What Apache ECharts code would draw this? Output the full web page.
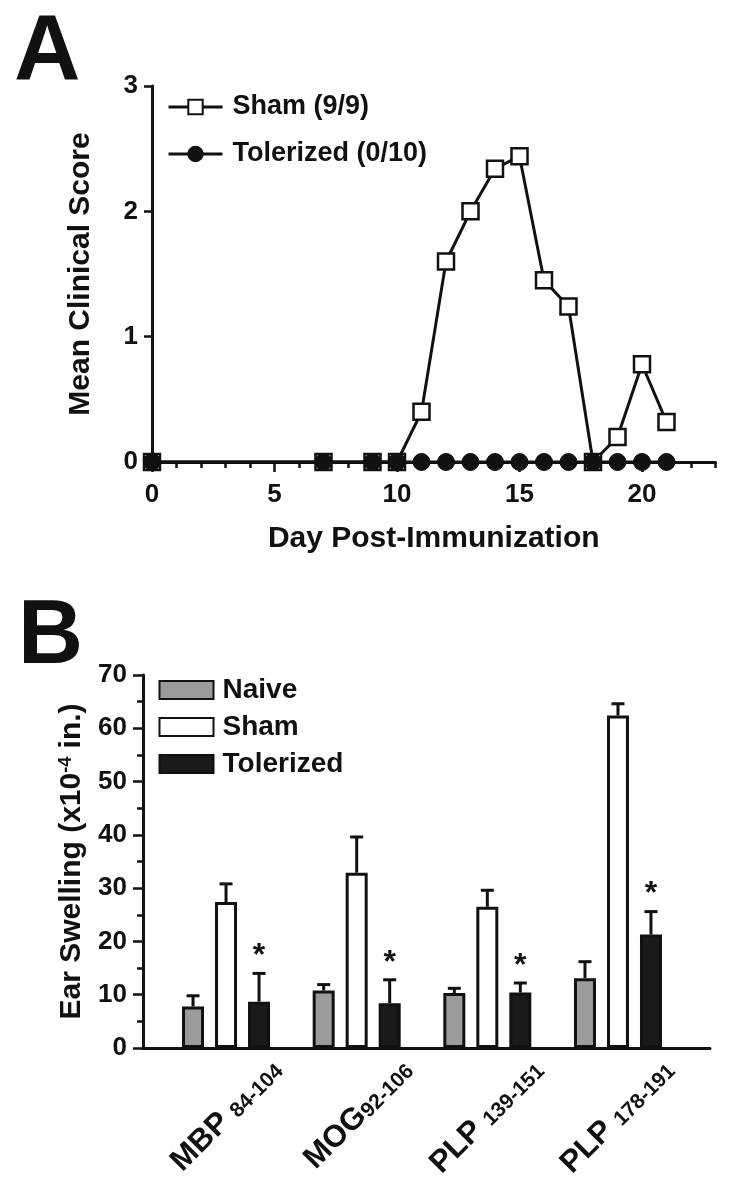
<!DOCTYPE html>
<html>
<head>
<meta charset="utf-8">
<script src="https://cdn.jsdelivr.net/npm/echarts@6/dist/echarts.min.js"></script>
<style>
html,body{margin:0;padding:0;background:#fff;}
#chart{width:733px;height:1193px;}
</style>
</head>
<body>
<div id="chart"></div>
<script>
// ---------- Panel A data ----------
const days = [0, 7, 9, 10, 11, 12, 13, 14, 15, 16, 17, 18, 19, 20, 21];
const shamScore = [0, 0, 0, 0, 0.40, 1.60, 2.00, 2.34, 2.44, 1.45, 1.24, 0, 0.20, 0.78, 0.32];
const tolerizedScore = [0, 0, 0, 0, 0, 0, 0, 0, 0, 0, 0, 0, 0, 0, 0];
const dayTickLabels = [0, 5, 10, 15, 20];
const seriesNamesA = ['Sham (9/9)', 'Tolerized (0/10)'];

// ---------- Panel B data ----------
const peptideMain = ['MBP ', 'MOG', 'PLP ', 'PLP '];
const peptideSub = ['84-104', '92-106', '139-151', '178-191'];
const naiveMean = [7.8, 10.8, 10.3, 13.1];
const naiveErr = [2.0, 1.1, 0.9, 3.1];
const shamMean = [27.4, 32.9, 26.5, 62.4];
const shamErr = [3.4, 6.7, 3.1, 2.2];
const tolMean = [8.7, 8.4, 10.4, 21.3];
const tolErr = [5.3, 4.4, 1.8, 4.3];
const tolSignificant = [1, 1, 1, 1];
const groupNamesB = ['Naive', 'Sham', 'Tolerized'];

const FONT = "'Liberation Sans', Arial, Helvetica, sans-serif";
const INK = '#111';
const BAR_W = 22, BAR_GAP = 0.5;

const categories = peptideMain.map((m, i) => m + peptideSub[i]);
const means = [naiveMean, shamMean, tolMean];
const errs = [naiveErr, shamErr, tolErr];
const errData = [];
for (let g = 0; g < categories.length; g++) {
  for (let s = 0; s < 3; s++) {
    errData.push([g, s, means[s][g], errs[s][g], s === 2 ? tolSignificant[g] : 0]);
  }
}

const chart = echarts.init(document.getElementById('chart'), null, {renderer: 'canvas'});

const option = {
  animation: false,
  backgroundColor: '#fff',
  textStyle: {fontFamily: FONT, color: INK},
  graphic: [
    {type: 'text', left: 14, top: 8, style: {text: 'A', font: 'bold 92px ' + FONT, fill: INK}},
    {type: 'text', left: 18, top: 593, style: {text: 'B', font: 'bold 90px ' + FONT, fill: INK}}
  ],
  legend: [
    {
      orient: 'vertical', left: 167, top: 92, padding: 0, itemWidth: 54, itemHeight: 18, itemGap: 17,
      selectedMode: false, data: seriesNamesA,
      lineStyle: {width: 3, color: INK},
      textStyle: {fontSize: 27, fontWeight: 'bold', fontFamily: FONT, color: INK, lineHeight: 30, padding: [0, 0, 0, 5]}
    },
    {
      orient: 'vertical', left: 158.5, top: 675, padding: 0, itemWidth: 54, itemHeight: 18, itemGap: 7,
      selectedMode: false, icon: 'rect', data: groupNamesB,
      textStyle: {fontSize: 28, fontWeight: 'bold', fontFamily: FONT, color: INK, lineHeight: 30, padding: [0, 0, 0, 4]}
    }
  ],
  grid: [
    {left: 152, right: 17.5, top: 86, bottom: 731},
    {left: 143, right: 23, top: 675, bottom: 145},
    {left: 160.7, right: 49.7, top: 675, bottom: 145}
  ],
  xAxis: [
    { // daily minor ticks, panel A
      gridIndex: 0, type: 'value', min: 0, max: 23, interval: 1, position: 'bottom',
      axisLine: {show: true, lineStyle: {color: INK, width: 3}},
      axisTick: {show: true, length: 6, lineStyle: {color: INK, width: 2.5}},
      axisLabel: {show: false}, splitLine: {show: false}
    },
    { // major ticks + labels, panel A
      gridIndex: 0, type: 'value', min: 0, max: 23, position: 'bottom',
      name: 'Day Post-Immunization', nameLocation: 'middle', nameGap: 62,
      nameTextStyle: {fontSize: 30, fontWeight: 'bold', fontFamily: FONT, color: INK},
      axisLine: {show: false},
      axisTick: {show: true, length: 10, customValues: dayTickLabels, lineStyle: {color: INK, width: 2.5}},
      axisLabel: {show: true, customValues: dayTickLabels, margin: 20, fontSize: 26, fontWeight: 'bold', fontFamily: FONT, color: INK},
      splitLine: {show: false}
    },
    { // panel B baseline
      gridIndex: 1, type: 'value', min: 0, max: 1, position: 'bottom',
      axisLine: {show: true, lineStyle: {color: INK, width: 3}},
      axisTick: {show: false}, axisLabel: {show: false}, splitLine: {show: false}
    },
    { // panel B categories
      gridIndex: 2, type: 'category', data: categories, position: 'bottom',
      axisLine: {show: false}, axisTick: {show: false},
      axisLabel: {
        show: true, interval: 0, rotate: 45, margin: 0, align: 'right', verticalAlign: 'middle',
        padding: [97, -24, 0, 0],
        formatter: (v, i) => '{m|' + peptideMain[i] + '}{s|' + peptideSub[i] + '}',
        rich: {
          m: {fontSize: 31, fontWeight: 'bold', fontFamily: FONT, color: INK},
          s: {fontSize: 21, fontWeight: 'bold', fontFamily: FONT, color: INK, verticalAlign: 'bottom', padding: [0, 0, 1, 0]}
        }
      }
    }
  ],
  yAxis: [
    {
      gridIndex: 0, type: 'value', min: 0, max: 3, interval: 1,
      name: 'Mean Clinical Score', nameLocation: 'middle', nameGap: 56,
      nameTextStyle: {fontSize: 30, fontWeight: 'bold', fontFamily: FONT, color: INK},
      axisLine: {show: true, lineStyle: {color: INK, width: 3}},
      axisTick: {show: true, length: 8, lineStyle: {color: INK, width: 2.5}},
      axisLabel: {margin: 14, fontSize: 26, fontWeight: 'bold', fontFamily: FONT, color: INK},
      splitLine: {show: false}
    },
    {
      gridIndex: 1, type: 'value', min: 0, max: 70, interval: 10,
      name: 'Ear Swelling (x10{sup|-4} in.)', nameLocation: 'middle', nameGap: 48,
      nameTextStyle: {
        fontSize: 30, fontWeight: 'bold', fontFamily: FONT, color: INK,
        rich: {sup: {fontSize: 18, fontWeight: 'bold', fontFamily: FONT, color: INK, verticalAlign: 'top'}}
      },
      axisLine: {show: true, lineStyle: {color: INK, width: 3}},
      axisTick: {show: true, length: 10, lineStyle: {color: INK, width: 2.5}},
      minorTick: {show: true, splitNumber: 2, length: 6, lineStyle: {color: INK, width: 2.5}},
      axisLabel: {margin: 16, fontSize: 26, fontWeight: 'bold', fontFamily: FONT, color: INK},
      splitLine: {show: false}, minorSplitLine: {show: false}
    },
    {
      gridIndex: 2, type: 'value', min: 0, max: 70, interval: 10, show: false
    }
  ],
  series: [
    {
      name: seriesNamesA[0], type: 'line', xAxisIndex: 0, yAxisIndex: 0,
      data: days.map((d, i) => [d, shamScore[i]]),
      symbol: 'rect', symbolSize: 16, clip: false, z: 3,
      lineStyle: {color: INK, width: 3},
      itemStyle: {color: '#fff', borderColor: INK, borderWidth: 2.5}
    },
    {
      name: seriesNamesA[1], type: 'line', xAxisIndex: 0, yAxisIndex: 0,
      data: days.map((d, i) => [d, tolerizedScore[i]]),
      symbol: 'circle', symbolSize: 17, clip: false, z: 4,
      lineStyle: {color: INK, width: 3},
      itemStyle: {color: INK, borderColor: INK, borderWidth: 1}
    },
    {
      type: 'custom', xAxisIndex: 3, yAxisIndex: 2, z: 1, clip: false,
      data: errData,
      encode: {x: 0, y: 2},
      renderItem: function (params, api) {
        const g = api.value(0), s = api.value(1), m = api.value(2), e = api.value(3), st = api.value(4);
        const step = BAR_W * (1 + BAR_GAP);
        const base = api.coord([g, m]);
        const top = api.coord([g, m + e]);
        const x = base[0] + (s - 1) * step;
        const children = [
          {type: 'line', shape: {x1: x, y1: base[1], x2: x, y2: top[1]}, style: {stroke: INK, lineWidth: 3}},
          {type: 'line', shape: {x1: x - 6.5, y1: top[1], x2: x + 6.5, y2: top[1]}, style: {stroke: INK, lineWidth: 3}}
        ];
        if (st) {
          children.push({type: 'text', x: x, y: top[1] - 17,
            style: {text: '*', font: 'bold 32px ' + FONT, fill: INK, align: 'center', verticalAlign: 'middle'}});
        }
        return {type: 'group', children: children};
      }
    },
    {
      name: groupNamesB[0], type: 'bar', xAxisIndex: 3, yAxisIndex: 2, z: 2,
      barWidth: BAR_W, barGap: (BAR_GAP * 100) + '%', data: naiveMean,
      itemStyle: {color: '#9b9b9b', borderColor: INK, borderWidth: 3}
    },
    {
      name: groupNamesB[1], type: 'bar', xAxisIndex: 3, yAxisIndex: 2, z: 2,
      barWidth: BAR_W, barGap: (BAR_GAP * 100) + '%', data: shamMean,
      itemStyle: {color: '#ffffff', borderColor: INK, borderWidth: 3}
    },
    {
      name: groupNamesB[2], type: 'bar', xAxisIndex: 3, yAxisIndex: 2, z: 2,
      barWidth: BAR_W, barGap: (BAR_GAP * 100) + '%', data: tolMean,
      itemStyle: {color: '#1a1a1a', borderColor: INK, borderWidth: 3}
    }
  ]
};
chart.setOption(option);
</script>
</body>
</html>
